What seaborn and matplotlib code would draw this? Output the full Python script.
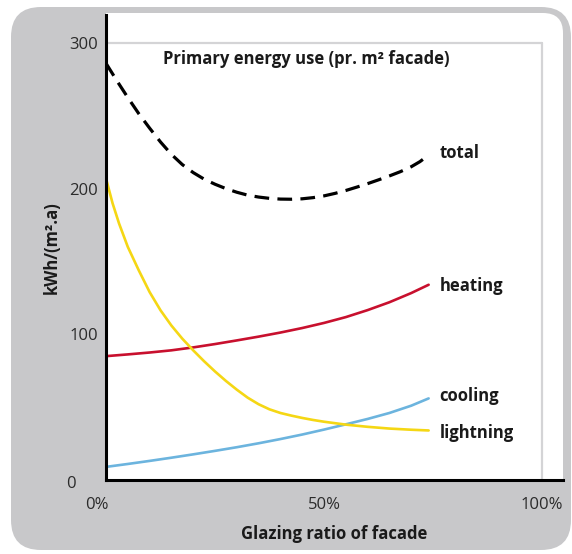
import matplotlib
matplotlib.use("Agg")
import matplotlib.pyplot as plt
import seaborn as sns
from matplotlib.patches import FancyBboxPatch, Rectangle
from matplotlib.transforms import IdentityTransform

# values (glazing ratio in %, kWh/(m2.a))
total_x = [0, 2.5, 5, 7.5, 10, 12.5, 15, 17.5, 20, 22.5, 25, 27.5, 30, 32.5, 35, 37.5,
           40, 42.5, 45, 47.5, 50, 52.5, 55, 57.5, 60, 62.5, 65, 67.5, 70, 72, 74]
total_y = [286, 274, 262.5, 251.5, 241.5, 232, 223.5, 216.5, 211, 206.5, 203, 200, 197.5,
           195.5, 194.2, 193.3, 192.8, 192.7, 193, 193.8, 195, 196.7, 198.7, 201, 203.4,
           206, 208.7, 211.6, 215, 218.5, 223]

heating_x = [0, 5, 10, 15, 20, 25, 30, 35, 40, 45, 50, 55, 60, 65, 70, 74]
heating_y = [85, 86.2, 87.5, 89, 91, 93.3, 95.8, 98.4, 101.2, 104.3, 107.8, 111.8, 116.6,
             122, 128.3, 134]

cooling_x = [0, 5, 10, 15, 20, 25, 30, 35, 40, 45, 50, 55, 60, 65, 70, 74]
cooling_y = [9, 11, 13.1, 15.3, 17.6, 20, 22.5, 25.2, 28.1, 31.2, 34.6, 38.2, 41.9, 46,
             51, 56]

lightning_x = [0, 1.5, 3, 5, 7.5, 10, 12.5, 15, 17.5, 20, 22.5, 25, 27.5, 30, 32.5, 35,
               37.5, 40, 42.5, 45, 47.5, 50, 55, 60, 65, 70, 74]
lightning_y = [207, 190, 176, 160, 144, 129, 116.5, 106, 97, 89, 81.5, 74.5, 68, 62, 56.5,
               52, 48.5, 46, 44.2, 42.6, 41.2, 40, 38, 36.5, 35.3, 34.5, 34]

series_labels = ["total", "heating", "cooling", "lightning"]
label_y = [224.5, 133, 57.5, 32]
y_ticks = [100, 200, 300]
x_ticks = [50, 100]
x_tick_labels = ["50%", "100%"]

sns.set_style("white")
plt.rcParams['font.family'] = ['Open Sans', 'DejaVu Sans']

W, H = 572, 554
fig = plt.figure(figsize=(W / 100, H / 100), dpi=100)
fig.patch.set_facecolor("white")


def add_bg(patch):
    patch.set_transform(IdentityTransform())
    patch.set_zorder(-10)
    fig.patches.append(patch)


# grey rounded panel and the white plotting area (pixel coords, origin bottom-left)
add_bg(FancyBboxPatch((11, 4), 560, 543, boxstyle="round,pad=0,rounding_size=30",
                      facecolor="#c8c8ca", edgecolor="none"))
add_bg(FancyBboxPatch((106, 74), 457, 467, boxstyle="round,pad=0,rounding_size=20",
                      facecolor="white", edgecolor="none"))
add_bg(Rectangle((106, 74), 437, 467, facecolor="white", edgecolor="none"))
add_bg(Rectangle((106, 74), 457, 200, facecolor="white", edgecolor="none"))

ax = fig.add_axes([106 / W, (H - 480) / H, (563 - 106) / W, (480 - 15) / H])
ax.patch.set_alpha(0)

sns.lineplot(x=total_x, y=total_y, ax=ax, color="black", linewidth=2.3,
             linestyle=(0, (4.6, 2.6)))
sns.lineplot(x=heating_x, y=heating_y, ax=ax, color="#c8102e", linewidth=1.9)
sns.lineplot(x=cooling_x, y=cooling_y, ax=ax, color="#6cb4de", linewidth=1.9)
sns.lineplot(x=lightning_x, y=lightning_y, ax=ax, color="#f5d714", linewidth=1.9)

ax.set_xlim(0, (563 - 106) / 4.36)
ax.set_ylim(0, (480 - 15) / 1.457)

# light grey frame of the chart
ax.axhline(300, xmin=0, xmax=100 / ax.get_xlim()[1], color="#d4d4d6", lw=1.6, zorder=1)
ax.axvline(100, ymin=0, ymax=300 / ax.get_ylim()[1], color="#d4d4d6", lw=1.6, zorder=1)

for s in ["top", "right"]:
    ax.spines[s].set_visible(False)
for s in ["left", "bottom"]:
    ax.spines[s].set_color("black")
    ax.spines[s].set_linewidth(2.2)
    ax.spines[s].set_zorder(5)

ax.set_yticks(y_ticks)
ax.set_yticklabels([str(v) for v in y_ticks])
ax.set_xticks(x_ticks)
ax.set_xticklabels(x_tick_labels)
ax.tick_params(axis="both", length=0, labelsize=12, labelcolor="#2b2b2b")
ax.tick_params(axis="y", pad=6)
ax.tick_params(axis="x", pad=12)
ax.text(-7, -3, "0", ha="right", va="center", fontsize=12, color="#2b2b2b")
ax.text(-2, -17.5, "0%", ha="center", va="center", fontsize=12, color="#2b2b2b")

for lab, yv in zip(series_labels, label_y):
    ax.text(76.5, yv, lab, ha="left", va="center", fontsize=12, fontweight="bold",
            color="#1a1a1a")

ax.text(13, 289, "Primary energy use (pr. m² facade)", ha="left", va="center",
        fontsize=12, fontweight="bold", color="#1a1a1a")

ax.set_xlabel("Glazing ratio of facade", fontsize=12, fontweight="bold",
              color="#1a1a1a", labelpad=9)
ax.set_ylabel("kWh/(m².a)", fontsize=12, fontweight="bold", color="#1a1a1a",
              labelpad=6)

fig.savefig("out.png", dpi=100)
